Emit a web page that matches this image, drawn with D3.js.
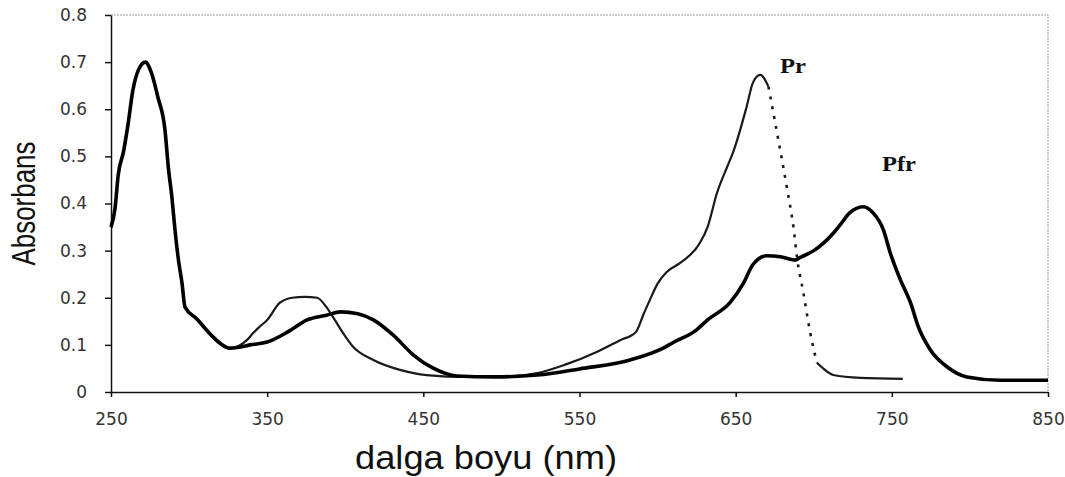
<html lang="en">
<head>
    <meta charset="UTF-8">
    <title>Absorbans</title>
    <style>
        body { margin: 0; background: #fff; }
        .axis path, .axis line { stroke: #111; stroke-width: 1.5px; }
        .axis text { font: 17px "DejaVu Sans", sans-serif; fill: #333; }
        .frame { stroke: #999; stroke-width: 1px; fill: none; stroke-dasharray: 2 1; }
        .pfr { stroke: #000; stroke-width: 3.6px; fill: none; stroke-linejoin: round; }
        .pr { stroke: #1a1a1a; stroke-width: 2.2px; fill: none; stroke-linejoin: round; }
        .pr-dash { stroke-dasharray: 3 7; stroke-width: 2.6px; }
        .title { font-family: "Liberation Sans", Arial, sans-serif; fill: #111; }
        .tag { font: bold 20px "Liberation Serif", "DejaVu Serif", serif; fill: #111; }
    </style>
</head>
<body>
<script src="https://cdnjs.cloudflare.com/ajax/libs/d3/7.8.5/d3.min.js"></script>
<script>

var xTicks = [250, 350, 450, 550, 650, 750, 850],
    yTicks = [0, 0.1, 0.2, 0.3, 0.4, 0.5, 0.6, 0.7, 0.8];

// shared UV band, both samples overlap here
var uvWave = [250, 252.6, 254.6, 258, 261, 264, 267.5, 272, 276, 280, 284.6, 286.7, 289, 291, 293, 295.5, 297.4, 305, 313.5, 320, 326],
    uvAbs  = [0.35, 0.39, 0.46, 0.51, 0.57, 0.64, 0.683, 0.70, 0.676, 0.626, 0.555, 0.477, 0.413, 0.343, 0.285, 0.23, 0.18, 0.155, 0.123, 0.103, 0.093];

var prWave = [332, 337, 341, 345, 350, 358, 366, 374, 382, 388, 392, 398.6, 405, 418, 435, 452, 478, 500, 523, 540, 561, 576, 586, 591, 595, 600, 606, 614.5, 627, 632, 638, 644.6, 648.5, 657, 661, 665.7, 671, 675, 678.5, 683, 687, 689.5, 693, 697.8, 702, 706, 712.5, 730, 757],
    prAbs  = [0.098, 0.11, 0.125, 0.138, 0.153, 0.189, 0.2, 0.202, 0.2, 0.18, 0.16, 0.125, 0.096, 0.068, 0.047, 0.036, 0.032, 0.032, 0.04, 0.057, 0.085, 0.11, 0.127, 0.165, 0.195, 0.23, 0.255, 0.274, 0.316, 0.35, 0.422, 0.478, 0.51, 0.605, 0.656, 0.673, 0.648, 0.577, 0.514, 0.43, 0.35, 0.28, 0.217, 0.125, 0.062, 0.05, 0.036, 0.03, 0.028];

var pfrWave = [332, 339, 350, 363, 375.6, 388, 397, 408, 418, 430.6, 443.5, 456, 471.6, 495, 523, 550, 582.5, 603.6, 610, 625, 632, 646.5, 655, 661, 670, 678.5, 688, 691, 700, 712.5, 717, 723, 731.7, 738, 744.6, 749, 755.5, 762, 767, 774.7, 785.5, 798, 819.5, 850],
    pfrAbs  = [0.095, 0.1, 0.106, 0.127, 0.153, 0.163, 0.17, 0.166, 0.153, 0.121, 0.079, 0.051, 0.034, 0.032, 0.036, 0.049, 0.068, 0.093, 0.105, 0.132, 0.153, 0.19, 0.231, 0.27, 0.289, 0.287, 0.28, 0.285, 0.30, 0.337, 0.355, 0.38, 0.393, 0.38, 0.344, 0.295, 0.238, 0.189, 0.138, 0.089, 0.053, 0.032, 0.025, 0.025];

var prDashed = [671, 703]; // fast drop after the Pr peak is drawn as scattered points

var width = 1065,
    height = 477,
    plotL = 111, plotR = 1048, plotT = 15, plotB = 392;

var svg = d3.select("body").append("svg")
    .attr("width", width)
    .attr("height", height);

var x = d3.scaleLinear().domain([250, 850]).range([plotL, plotR]),
    y = d3.scaleLinear().domain([0, 0.8]).range([plotB, plotT]);

function pts(w, a) {
  return w.map(function(d, i){ return [d, a[i]]; });
}

var uv = pts(uvWave, uvAbs),
    pr = uv.concat(pts(prWave, prAbs)),
    pfr = uv.concat(pts(pfrWave, pfrAbs));

// frame
svg.append("path")
  .attr("class", "frame")
  .attr("d", "M" + [x(250), y(0.8)] + "L" + [x(850), y(0.8)] + "L" + [x(850), y(0)]);

svg.append("g")
  .attr("class", "axis")
  .attr("transform", "translate(0," + plotB + ")")
  .call(d3.axisBottom(x).tickValues(xTicks).tickSize(5).tickSizeOuter(0).tickPadding(16));

svg.append("g")
  .attr("class", "axis")
  .attr("transform", "translate(" + plotL + ",0)")
  .call(d3.axisLeft(y).tickValues(yTicks).tickSize(6).tickSizeOuter(0).tickPadding(18)
    .tickFormat(function(d){ return d === 0 ? "0" : d.toFixed(1); }));

var line = d3.line()
  .x(function(d){ return x(d[0]); })
  .y(function(d){ return y(d[1]); })
  .curve(d3.curveMonotoneX);

var prA = pr.filter(function(d){ return d[0] <= prDashed[0]; }),
    prB = pr.filter(function(d){ return d[0] >= prDashed[0] && d[0] <= prDashed[1]; }),
    prC = pr.filter(function(d){ return d[0] >= prDashed[1] - 2; });

svg.append("path").datum(prA).attr("class", "pr").attr("d", line);
svg.append("path").datum(prB).attr("class", "pr pr-dash").attr("d", line);
svg.append("path").datum(prC).attr("class", "pr").attr("d", line);
svg.append("path").datum(pfr).attr("class", "pfr").attr("d", line);

svg.append("text").attr("class", "tag").attr("x", 780).attr("y", 73)
  .attr("textLength", 26).attr("lengthAdjust", "spacingAndGlyphs").text("Pr");
svg.append("text").attr("class", "tag").attr("x", 882).attr("y", 171)
  .attr("textLength", 34).attr("lengthAdjust", "spacingAndGlyphs").text("Pfr");

svg.append("text")
  .attr("class", "title")
  .attr("transform", "translate(35," + y(0.4) + ") rotate(-90)")
  .attr("text-anchor", "middle")
  .style("font-size", "33px")
  .attr("textLength", 124)
  .attr("lengthAdjust", "spacingAndGlyphs")
  .text("Absorbans");

svg.append("text")
  .attr("class", "title")
  .attr("x", 486)
  .attr("y", 469)
  .attr("text-anchor", "middle")
  .style("font-size", "33px")
  .attr("textLength", 262)
  .attr("lengthAdjust", "spacingAndGlyphs")
  .text("dalga boyu (nm)");

</script>
</body>
</html>
